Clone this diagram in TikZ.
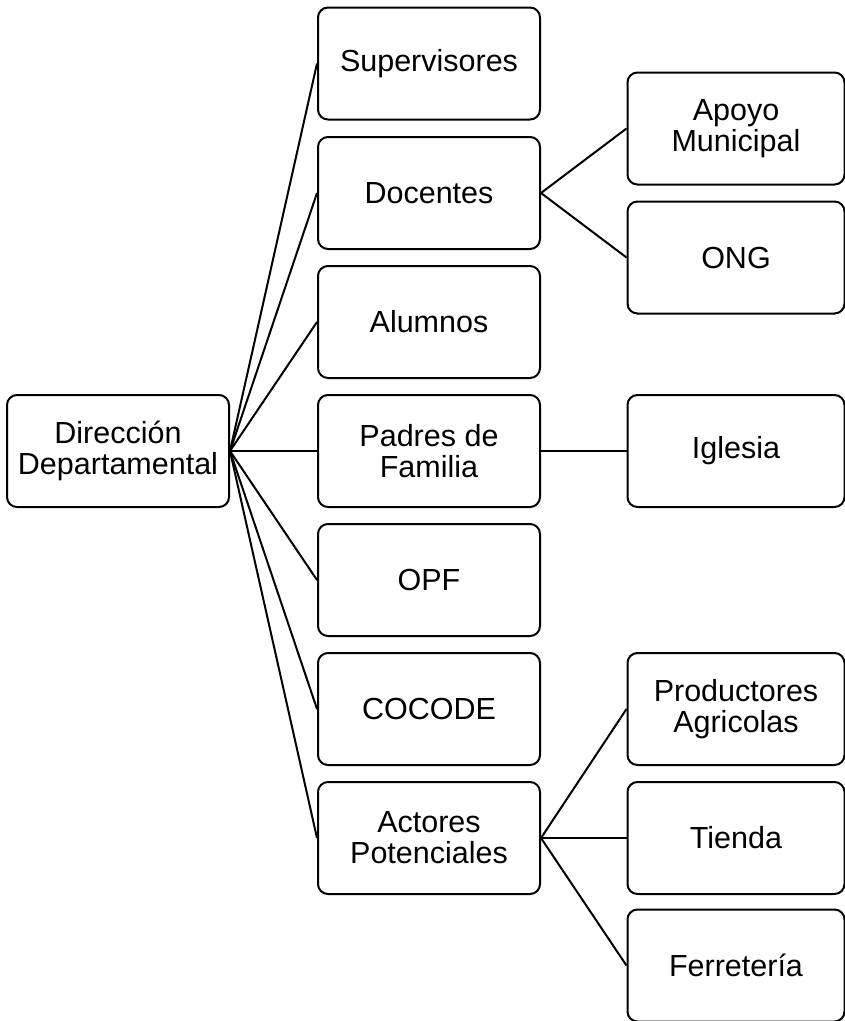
\documentclass[tikz,border=0pt]{standalone}
\usepackage{fontspec}
\setmainfont{Liberation Sans}
\begin{document}
\begin{tikzpicture}[x=1pt,y=-1pt,
  box/.style={draw=black,line width=2pt,rounded corners=10pt,fill=white,
    minimum height=112pt,align=center,inner sep=2pt,
    font=\fontsize{30.5}{31}\selectfont},
  midbox/.style={box,minimum width=222pt},
  rbox/.style={box,minimum width=217pt},
  link/.style={draw=black,line width=2pt}]
\useasboundingbox (0,0) rectangle (845,1021);
\node[midbox] (root) at (118,451) {Dirección\\Departamental};
\node[midbox] (sup) at (429,63.5) {Supervisores};
\node[midbox] (doc) at (429,193) {Docentes};
\node[midbox] (alu) at (429,322) {Alumnos};
\node[midbox] (pad) at (429,451) {Padres de\\Familia};
\node[midbox] (opf) at (429,580) {OPF};
\node[midbox] (coc) at (429,709) {COCODE};
\node[midbox] (act) at (429,838) {Actores\\Potenciales};
\node[rbox] (apo) at (736,128.5) {Apoyo\\Municipal};
\node[rbox] (ong) at (736,257.5) {ONG};
\node[rbox] (igl) at (736,451) {Iglesia};
\node[rbox] (pro) at (736,709) {Productores\\Agricolas};
\node[rbox] (tie) at (736,838) {Tienda};
\node[rbox] (fer) at (736,965.5) {Ferretería};
\foreach \m in {sup,doc,alu,pad,opf,coc,act}
  \draw[link] (root.east) -- (\m.west);
\draw[link] (doc.east) -- (apo.west);
\draw[link] (doc.east) -- (ong.west);
\draw[link] (pad.east) -- (igl.west);
\draw[link] (act.east) -- (pro.west);
\draw[link] (act.east) -- (tie.west);
\draw[link] (act.east) -- (fer.west);
\end{tikzpicture}
\end{document}
